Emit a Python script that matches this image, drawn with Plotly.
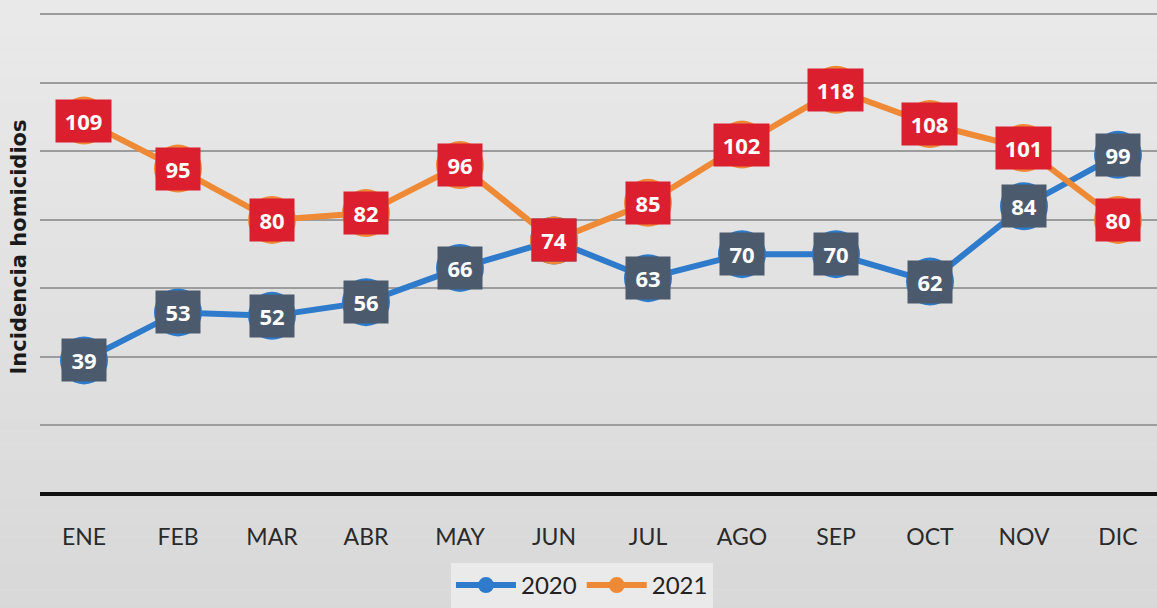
import plotly.graph_objects as go

months = ["ENE", "FEB", "MAR", "ABR", "MAY", "JUN", "JUL", "AGO", "SEP", "OCT", "NOV", "DIC"]
y2020 = [39, 53, 52, 56, 66, 74, 63, 70, 70, 62, 84, 99]
y2021 = [109, 95, 80, 82, 96, 74, 85, 102, 118, 108, 101, 80]

C2020_LINE = "#2f7bcb"
C2021_LINE = "#ee8a36"
C2020_BOX = "#4c5a6e"
C2021_BOX = "#dc1f2e"

W, H = 1157, 608
fig = go.Figure()

# background gradient bands
n = 60
for i in range(n):
    t = i / (n - 1)
    top = (238, 238, 238)
    bot = (216, 216, 216)
    c = tuple(int(top[k] + (bot[k] - top[k]) * t) for k in range(3))
    fig.add_shape(type="rect", xref="paper", yref="paper",
                  x0=-0.1, x1=1.1, y0=1.3 - (i + 1) * 1.6 / n, y1=1.3 - i * 1.6 / n,
                  fillcolor="rgb(%d,%d,%d)" % c, line_width=0, layer="below")

xs = list(range(len(months)))
fig.add_trace(go.Scatter(x=xs, y=y2020, name="2020", mode="lines+markers",
                         line=dict(color=C2020_LINE, width=6),
                         marker=dict(color=C2020_LINE, size=48)))
fig.add_trace(go.Scatter(x=xs, y=y2021, name="2021", mode="lines+markers",
                         line=dict(color=C2021_LINE, width=6),
                         marker=dict(color=C2021_LINE, size=48)))

for series, col in ((y2020, C2020_BOX), (y2021, C2021_BOX)):
    for i, v in enumerate(series):
        s = str(v)
        fig.add_annotation(x=i, y=v, xref="x", yref="y", text="<b>%s</b>" % s,
                           showarrow=False, bgcolor=col, borderpad=0,
                           width=44 if len(s) == 2 else 55, height=42,
                           font=dict(color="white", size=22, family="Open Sans, Arial, sans-serif"))

fig.update_layout(
    width=W, height=H,
    margin=dict(l=40, r=0, t=0, b=114),
    paper_bgcolor="#e2e2e2",
    plot_bgcolor="rgba(0,0,0,0)",
    showlegend=True,
    legend=dict(orientation="h", xref="container", yref="container", x=0.503, xanchor="center",
                y=0.0, yanchor="bottom", bgcolor="#eaeaea",
                font=dict(size=24, color="#222222", family="Lato, Open Sans, Arial, sans-serif"),
                itemwidth=60, entrywidth=0),
    xaxis=dict(range=[-0.468, 11.415], tickmode="array", tickvals=xs, ticktext=months,
               showgrid=False, zeroline=False, showline=False,
               ticks="outside", ticklen=22, tickcolor="rgba(0,0,0,0)",
               tickfont=dict(size=23, color="#2a2a2a",
                             family="Liberation Sans Narrow, Lato, sans-serif")),
    yaxis=dict(range=[0, 144.2], tickvals=[20, 40, 60, 80, 100, 120, 140],
               showticklabels=False, showgrid=True, gridcolor="#9c9c9c", gridwidth=2,
               zeroline=True, zerolinecolor="#111111", zerolinewidth=4,
               title=dict(text="<b>Incidencia homicidios</b>", standoff=6,
                          font=dict(size=21, color="#1a1a1a", family="DejaVu Sans, sans-serif"))),
)

fig.write_html("out.html", config={"displayModeBar": False},
               post_script="document.body.style.margin='0';document.body.style.padding='0';")
